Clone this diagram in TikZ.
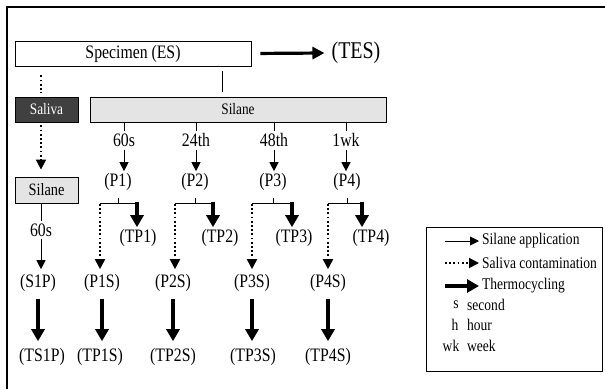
\documentclass[tikz,border=0pt]{standalone}
\usepackage{fontspec}
\setmainfont[FakeStretch=0.83]{Liberation Serif}
\usetikzlibrary{arrows.meta}
\definecolor{darkbox}{HTML}{404040}
\definecolor{lightbox}{HTML}{E4E4E4}
\begin{document}
\begin{tikzpicture}[x=1pt,y=-1pt,
  lbl/.style={inner sep=2pt,font=\fontsize{19}{21}\selectfont},
  boxtxt/.style={draw,line width=0.9pt,inner sep=0pt,font=\fontsize{16}{18}\selectfont},
  thinarrow/.style={line width=0.9pt,-{Triangle[length=9pt,width=9pt]}},
  dotline/.style={line width=1.8pt,dash pattern=on 1.8pt off 2.4pt},
  dotarrow/.style={dotline,-{Triangle[length=10pt,width=10pt]}},
  thermo/.style={line width=3.4pt,-{Triangle[length=12pt,width=13pt]}},
  legtxt/.style={anchor=west,inner sep=0pt,font=\fontsize{16.3}{18}\selectfont},
  legabbr/.style={inner sep=0pt,font=\fontsize{16.3}{18}\selectfont}]
\useasboundingbox (0,0) rectangle (605,389);
% outer frame
\draw[line width=1.2pt] (7,389) -- (7,7) -- (605,7);

% top
\node[boxtxt,minimum width=236pt,minimum height=25pt,font=\fontsize{19}{21}\selectfont] (spec) at (133,53.5) {Specimen (ES)};
\node[inner sep=7pt,font=\fontsize{24}{26}\selectfont] (tes) at (356,53) {(TES)};
\draw[line width=3.2pt,-{Triangle[length=12pt,width=12pt]},shorten <=9pt] (spec.east) -- (tes.west);

\node[boxtxt,fill=lightbox,minimum width=296pt,minimum height=25pt] (sil) at (238,109.5) {Silane};
\node[boxtxt,fill=darkbox,text=white,minimum width=63pt,minimum height=25pt] (sal) at (46.5,109.5) {Saliva};
\coordinate (cx) at (222,0);
\draw[line width=0.9pt,shorten <=5pt,shorten >=5pt] (spec.south -| cx) -- (sil.north -| cx);
\coordinate (dx) at (41,0);
\draw[dotline,shorten <=9pt,shorten >=4pt] (spec.south -| dx) -- (sal.north -| dx);

% left column
\node[boxtxt,fill=lightbox,minimum width=63pt,minimum height=26pt,font=\fontsize{17.3}{19}\selectfont] (sil2) at (46.5,190) {Silane};
\draw[dotarrow,shorten <=3pt,shorten >=7pt] (sal.south -| dx) -- (sil2.north -| dx);
\node[lbl] (s60) at (41,230) {60s};
\node[lbl] (s1p) at (38,283) {(S1P)};
\node[lbl] (ts1p) at (42,357) {(TS1P)};
\draw[line width=0.9pt] (sil2.south -| dx) -- (s60.north);
\draw[thinarrow,shorten >=3pt] (s60.south) -- (s1p.north -| dx);
\draw[thermo,shorten <=5pt,shorten >=5pt] (s1p.south) -- (s1p.south |- ts1p.north);

% time labels
\node[lbl] (t1) at (124,140) {60s};
\node[lbl] (t2) at (196,140) {24th};
\node[lbl] (t3) at (274,140) {48th};
\node[lbl] (t4) at (346,140) {1wk};
\foreach \t in {t1,t2,t3,t4} {
  \draw[line width=0.9pt] (\t |- sil.south) -- ++(0,9);
}
% P nodes
\node[lbl] (p1) at (118,182) {(P1)};
\node[lbl] (p2) at (195,182) {(P2)};
\node[lbl] (p3) at (273,182) {(P3)};
\node[lbl] (p4) at (347,182) {(P4)};
\foreach \t/\p in {t1/p1,t2/p2,t3/p3,t4/p4} {
  \draw[thinarrow,shorten <=1pt] (\t.south) -- (\t.south |- \p.north);
}
% TP nodes
\node[lbl] (tp1) at (138,238) {(TP1)};
\node[lbl] (tp2) at (220,238) {(TP2)};
\node[lbl] (tp3) at (294,238) {(TP3)};
\node[lbl] (tp4) at (371,238) {(TP4)};
% PS nodes
\node[lbl] (p1s) at (102,283) {(P1S)};
\node[lbl] (p2s) at (173,283) {(P2S)};
\node[lbl] (p3s) at (252,283) {(P3S)};
\node[lbl] (p4s) at (328,283) {(P4S)};
% TPS nodes
\node[lbl] (tp1s) at (100,357) {(TP1S)};
\node[lbl] (tp2s) at (173,357) {(TP2S)};
\node[lbl] (tp3s) at (253,357) {(TP3S)};
\node[lbl] (tp4s) at (328,357) {(TP4S)};

% branches
\coordinate (l1) at (100,203); \coordinate (r1) at (137,203);
\coordinate (l2) at (175,203); \coordinate (r2) at (213,203);
\coordinate (l3) at (252,203); \coordinate (r3) at (292,203);
\coordinate (l4) at (328,203); \coordinate (r4) at (362,203);
\foreach \p/\l/\r/\tp/\ps/\tps in {p1/l1/r1/tp1/p1s/tp1s,p2/l2/r2/tp2/p2s/tp2s,p3/l3/r3/tp3/p3s/tp3s,p4/l4/r4/tp4/p4s/tp4s} {
  \draw[line width=0.9pt,shorten <=5pt] (\p.south) -- (\p.south |- \l);
  \draw[line width=0.9pt] (\l) -- (\r);
  \draw[dotarrow,shorten <=1pt,shorten >=3pt] (\l) -- (\l |- \ps.north);
  \draw[thermo,shorten <=-1.5pt] (\r) -- (\r |- \tp.north);
  \draw[thermo,shorten <=5pt,shorten >=5pt] (\ps.south) -- (\ps.south |- \tps.north);
}

% legend
\node[draw,line width=0.9pt,minimum width=176pt,minimum height=144pt,inner sep=0pt] (leg) at (514,299) {};
\coordinate (a1) at (445,241); \coordinate (a1e) at (479,241);
\coordinate (a2) at (445,263); \coordinate (a2e) at (479,263);
\coordinate (a3) at (445,286); \coordinate (a3e) at (479,286);
\draw[thinarrow] (a1) -- (a1e);
\draw[dotarrow] (a2) -- (a2e);
\draw[thermo] (a3) -- (a3e);
\node[legtxt] (la1) at (482,241) {Silane application};
\node[legtxt] (la2) at (482,263) {Saliva contamination};
\node[legtxt] (la3) at (482,286) {Thermocycling};
\node[legabbr] (ls) at (456,305) {s};
\node[legabbr] (lh) at (455,325) {h};
\node[legabbr] (lw) at (451,346) {wk};
\node[legtxt] (lsw) at (467,305) {second};
\node[legtxt] (lhw) at (467,325) {hour};
\node[legtxt] (lww) at (467,346) {week};
\end{tikzpicture}
\end{document}
